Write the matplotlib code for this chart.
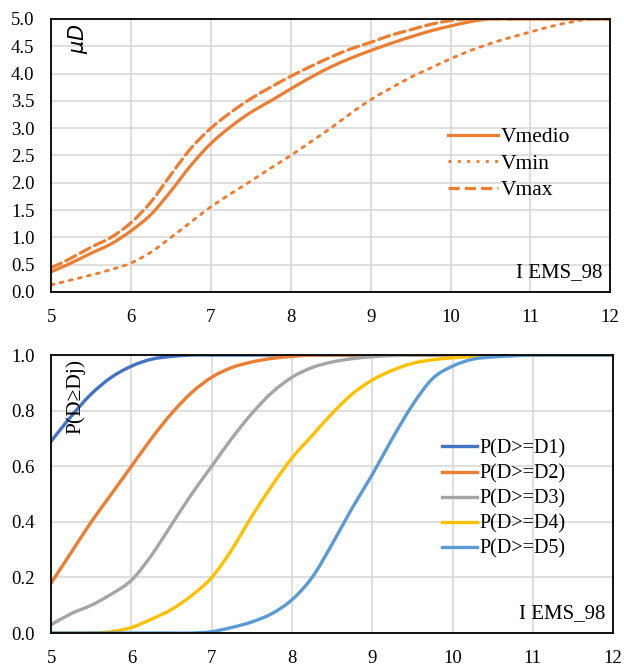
import numpy as np
import matplotlib
matplotlib.use("Agg")
import matplotlib.pyplot as plt
from matplotlib.path import Path
from matplotlib.patches import PathPatch
from matplotlib.lines import Line2D

plt.rcParams['font.family'] = ['Liberation Serif', 'DejaVu Serif']

# ******** data ********
x = [5, 5.25, 5.5, 5.75, 6, 6.25, 6.5, 6.75, 7, 7.25, 7.5, 7.75, 8, 8.25, 8.5,
     8.75, 9, 9.25, 9.5, 9.75, 10, 10.25, 10.5, 10.75, 11, 11.25, 11.5, 11.75, 12]

vmedio = [0.37, 0.53, 0.71, 0.88, 1.12, 1.42, 1.85, 2.32, 2.72, 3.03, 3.29, 3.5, 3.72, 3.93, 4.12,
          4.28, 4.42, 4.55, 4.67, 4.78, 4.87, 4.95, 5.0, 5.0, 5.0, 5.0, 5.0, 5.0, 5.0]
vmin = [0.13, 0.22, 0.31, 0.41, 0.53, 0.73, 1.0, 1.28, 1.56, 1.8, 2.03, 2.27, 2.5, 2.75, 3.0,
        3.27, 3.52, 3.73, 3.93, 4.1, 4.27, 4.42, 4.55, 4.66, 4.76, 4.86, 4.94, 5.0, 5.0]
vmax = [0.44, 0.62, 0.82, 1.0, 1.27, 1.65, 2.15, 2.63, 3.0, 3.29, 3.54, 3.75, 3.95, 4.13, 4.3,
        4.45, 4.57, 4.7, 4.8, 4.9, 4.97, 5.0, 5.0, 5.0, 5.0, 5.0, 5.0, 5.0, 5.0]

p1 = [0.69, 0.78, 0.86, 0.92, 0.96, 0.985, 0.995, 1.0, 1.0, 1.0, 1.0, 1.0, 1.0, 1.0, 1.0,
      1.0, 1.0, 1.0, 1.0, 1.0, 1.0, 1.0, 1.0, 1.0, 1.0, 1.0, 1.0, 1.0, 1.0]
p2 = [0.18, 0.29, 0.4, 0.5, 0.6, 0.7, 0.79, 0.865, 0.92, 0.955, 0.975, 0.988, 0.995, 1.0, 1.0,
      1.0, 1.0, 1.0, 1.0, 1.0, 1.0, 1.0, 1.0, 1.0, 1.0, 1.0, 1.0, 1.0, 1.0]
p3 = [0.03, 0.07, 0.1, 0.14, 0.19, 0.28, 0.39, 0.5, 0.6, 0.7, 0.79, 0.865, 0.92, 0.955, 0.975,
      0.987, 0.994, 0.998, 1.0, 1.0, 1.0, 1.0, 1.0, 1.0, 1.0, 1.0, 1.0, 1.0, 1.0]
p4 = [0.0, 0.0, 0.0, 0.005, 0.02, 0.05, 0.085, 0.135, 0.2, 0.3, 0.42, 0.53, 0.63, 0.71, 0.79,
      0.86, 0.91, 0.945, 0.97, 0.983, 0.99, 0.995, 1.0, 1.0, 1.0, 1.0, 1.0, 1.0, 1.0]
p5 = [0.0, 0.0, 0.0, 0.0, 0.0, 0.0, 0.0, 0.0, 0.005, 0.02, 0.04, 0.07, 0.12, 0.2, 0.32,
      0.45, 0.57, 0.7, 0.82, 0.915, 0.96, 0.985, 0.993, 0.997, 1.0, 1.0, 1.0, 1.0, 1.0]

v_labels = ['Vmedio', 'Vmin', 'Vmax']
p_labels = ['P(D>=D1)', 'P(D>=D2)', 'P(D>=D3)', 'P(D>=D4)', 'P(D>=D5)']
p_colors = ['#4472C4', '#ED7D31', '#A5A5A5', '#FFC000', '#5B9BD5']
orange = '#ED7D31'


# ******** smoothed line, like Excel's "smoothed line" ********
def smooth_line(ax, xs, ys, **kw):
    pts = np.column_stack([xs, ys]).astype(float)
    ext = np.vstack([pts[0], pts, pts[-1]])
    verts = [pts[0]]
    codes = [Path.MOVETO]
    for i in range(len(pts) - 1):
        p0, p1_, p2_, p3_ = ext[i], ext[i + 1], ext[i + 2], ext[i + 3]
        c1 = p1_ + (p2_ - p0) / 6.0
        c2 = p2_ - (p3_ - p1_) / 6.0
        verts += [c1, c2, p2_]
        codes += [Path.CURVE4] * 3
    patch = PathPatch(Path(verts, codes), fill=False, capstyle='round', joinstyle='round', **kw)
    ax.add_patch(patch)
    return Line2D([], [], color=kw.get('edgecolor'), lw=kw.get('lw'), ls=kw.get('ls', '-'))


def style_axes(ax, ymax, ystep):
    ax.set_xlim(5, 12)
    ax.set_ylim(0, ymax)
    ax.set_xticks(np.arange(5, 13, 1))
    ax.set_yticks(np.arange(0, ymax + ystep / 2, ystep))
    ax.grid(True, color='#d9d9d9', linewidth=1.2)
    ax.set_axisbelow(True)
    ax.tick_params(length=0, labelsize=13.5)
    ax.tick_params(axis='x', pad=12)
    ax.tick_params(axis='y', pad=12)
    for s in ax.spines.values():
        s.set_color('black')
        s.set_linewidth(1.3)
    ax.text(0.986, 0.035, 'I EMS_98', transform=ax.transAxes, ha='right', va='bottom', fontsize=15)


fig = plt.figure(figsize=(6.24, 6.66), dpi=100)

# ******** top ********
ax1 = fig.add_axes([0.082, 0.5616, 0.896, 0.41])
h1 = smooth_line(ax1, x, vmedio, edgecolor=orange, lw=2.3)
h2 = smooth_line(ax1, x, vmin, edgecolor=orange, lw=2.1, ls=(0, (1, 2.2)))
h3 = smooth_line(ax1, x, vmax, edgecolor=orange, lw=2.3, ls=(0, (3.5, 1.6)))
style_axes(ax1, 5.0, 0.5)
ax1.set_yticklabels(['%.1f' % v for v in np.arange(0, 5.01, 0.5)])
ax1.text(0.027, 0.985, r'$\mu D$', transform=ax1.transAxes, rotation=90, ha='left', va='top', fontsize=15)
ax1.legend([h1, h2, h3], v_labels, loc='center left', bbox_to_anchor=(0.69, 0.47), frameon=False,
           fontsize=15.5, handlelength=2.35, handletextpad=0.1, labelspacing=0.3, borderpad=0)

# ******** bottom ********
ax2 = fig.add_axes([0.082, 0.0495, 0.9006, 0.4174])
handles = []
for ys, c in zip([p1, p2, p3, p4, p5], p_colors):
    handles.append(smooth_line(ax2, x, ys, edgecolor=c, lw=2.4))
style_axes(ax2, 1.0, 0.2)
ax2.set_yticklabels(['%.1f' % v for v in np.arange(0, 1.01, 0.2)])
ax2.text(0.025, 0.985, 'P(D≥Dj)', transform=ax2.transAxes, rotation=90, ha='left', va='top', fontsize=15.5)
ax2.legend(handles, p_labels, loc='center left', bbox_to_anchor=(0.677, 0.482), frameon=False,
           fontsize=14.5, handlelength=1.75, handletextpad=0.1, labelspacing=0.29, borderpad=0)

fig.savefig('out.png', dpi=100)
